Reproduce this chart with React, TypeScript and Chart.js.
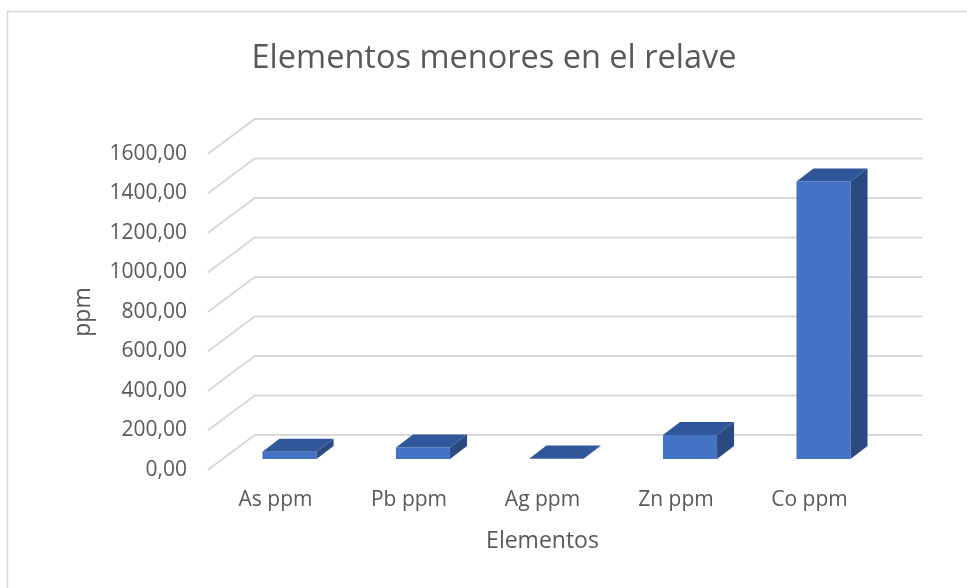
import React, { useEffect, useRef } from "react";
import { Chart, registerables } from "chart.js";

Chart.register(...registerables);

// Minor-element concentrations in the tailings (ppm)
const categories = ["As ppm", "Pb ppm", "Ag ppm", "Zn ppm", "Co ppm"];
const values = [37, 58, 2, 122, 1405];
const yTicks = [0, 200, 400, 600, 800, 1000, 1200, 1400, 1600];

const TEXT = "#595959";
const FONT = "'Open Sans', sans-serif";
const GRID = "#d9d9d9";
const FRONT = "#4472C4";
const TOP = "#30579A";
const SIDE = "#2B4A82";

// Perspective offsets (px): wall depth, bar front-face offset, bar depth
const WALL = { dx: 46, dy: -35 };
const BAR_SHIFT = { dx: 14, dy: -11 };
const BAR_DEPTH = { dx: 17, dy: -13 };

const W = 988;
const H = 588;

const frame3d = {
  id: "frame3d",
  beforeDraw(chart: any) {
    const { ctx } = chart;
    ctx.save();
    ctx.fillStyle = "#ffffff";
    ctx.fillRect(0, 0, chart.width, chart.height);
    ctx.strokeStyle = "#d6d6d6";
    ctx.lineWidth = 1.5;
    ctx.strokeRect(7.5, 11.5, 973, 700);
    ctx.restore();
  },
  beforeDatasetsDraw(chart: any) {
    const { ctx, chartArea } = chart;
    const y = chart.scales.y;
    ctx.save();
    ctx.strokeStyle = GRID;
    ctx.lineWidth = 2;
    for (const v of yTicks) {
      const py = y.getPixelForValue(v);
      ctx.beginPath();
      ctx.moveTo(chartArea.left - 1, py);
      ctx.lineTo(chartArea.left + WALL.dx, py + WALL.dy);
      ctx.lineTo(chartArea.right + WALL.dx, py + WALL.dy);
      ctx.stroke();
    }
    ctx.restore();
    // bars are drawn on a plane set back from the front edge
    ctx.save();
    ctx.translate(BAR_SHIFT.dx, BAR_SHIFT.dy);
  },
  afterDatasetsDraw(chart: any) {
    const { ctx } = chart;
    ctx.restore();
    const meta = chart.getDatasetMeta(0);
    ctx.save();
    for (const bar of meta.data) {
      const { x, y, base, width } = bar.getProps(["x", "y", "base", "width"], true);
      const l = x - width / 2 + BAR_SHIFT.dx;
      const r = x + width / 2 + BAR_SHIFT.dx;
      const t = y + BAR_SHIFT.dy;
      const b = base + BAR_SHIFT.dy;
      // top face
      ctx.fillStyle = TOP;
      ctx.beginPath();
      ctx.moveTo(l, t);
      ctx.lineTo(l + BAR_DEPTH.dx, t + BAR_DEPTH.dy);
      ctx.lineTo(r + BAR_DEPTH.dx, t + BAR_DEPTH.dy);
      ctx.lineTo(r, t);
      ctx.closePath();
      ctx.fill();
      // side face
      ctx.fillStyle = SIDE;
      ctx.beginPath();
      ctx.moveTo(r, t);
      ctx.lineTo(r + BAR_DEPTH.dx, t + BAR_DEPTH.dy);
      ctx.lineTo(r + BAR_DEPTH.dx, b + BAR_DEPTH.dy);
      ctx.lineTo(r, b);
      ctx.closePath();
      ctx.fill();
    }
    ctx.restore();
  },
};

export default function App() {
  const canvasRef = useRef<HTMLCanvasElement | null>(null);

  useEffect(() => {
    if (!canvasRef.current) return;
    const chart = new Chart(canvasRef.current, {
      type: "bar",
      data: {
        labels: categories,
        datasets: [
          {
            label: "ppm",
            data: values,
            backgroundColor: FRONT,
            borderWidth: 0,
            categoryPercentage: 1,
            barPercentage: 0.405,
          },
        ],
      },
      plugins: [frame3d],
      options: {
        responsive: false,
        animation: false,
        devicePixelRatio: 1,
        layout: { padding: 0 },
        plugins: {
          legend: { display: false },
          tooltip: { enabled: false },
          title: {
            display: true,
            text: "Elementos menores en el relave",
            color: TEXT,
            font: { family: FONT, size: 32.5, weight: "normal" },
            padding: { top: 39.5, bottom: 75.5 },
          },
        },
        scales: {
          x: {
            type: "category",
            offset: true,
            grid: { display: false, drawTicks: false },
            border: { display: false },
            ticks: {
              color: TEXT,
              font: { family: FONT, size: 21 },
              padding: 17,
              maxRotation: 0,
            },
            title: {
              display: true,
              text: "Elementos",
              color: TEXT,
              font: { family: FONT, size: 23 },
              padding: { top: 0, bottom: 33 },
            },
            afterFit(scale: any) {
              scale.height = 118;
            },
          },
          y: {
            type: "linear",
            min: 0,
            max: 1600,
            grid: { display: false, drawTicks: false },
            border: { display: false },
            afterBuildTicks(scale: any) {
              scale.ticks = yTicks.map((v) => ({ value: v }));
            },
            ticks: {
              color: TEXT,
              font: { family: FONT, size: 21 },
              padding: 21.75,
              callback: (v: any) => Number(v).toFixed(2).replace(".", ","),
            },
            title: {
              display: true,
              text: "ppm",
              color: TEXT,
              font: { family: FONT, size: 23 },
              padding: { top: 70, bottom: 0 },
            },
            afterFit(scale: any) {
              scale.width = 208.75;
            },
          },
          side: {
            type: "linear",
            position: "right",
            display: true,
            grid: { display: false, drawTicks: false },
            border: { display: false },
            ticks: { display: false },
            afterFit(scale: any) {
              scale.width = W - 876.25;
            },
          },
        },
      },
    });
    return () => chart.destroy();
  }, []);

  return (
    <div
      style={{
        position: "fixed",
        left: 0,
        top: 0,
        width: 967,
        height: 588,
        overflow: "hidden",
        background: "#ffffff",
      }}
    >
      <canvas ref={canvasRef} width={W} height={H} style={{ display: "block", width: W, height: H }} />
    </div>
  );
}
